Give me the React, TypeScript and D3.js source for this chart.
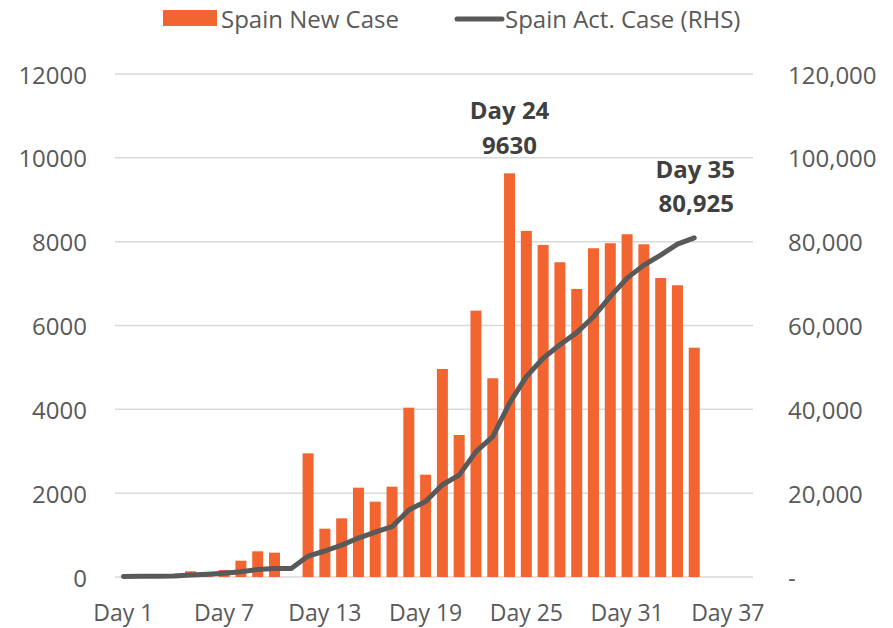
import React from "react";
import * as d3 from "d3";

const categories: string[] = Array.from({ length: 38 }, (_, i) => `Day ${i + 1}`);

const newCases: number[] = [
  0, 13, 15, 32, 136, 50, 167, 389, 613, 580,
  0, 2950, 1153, 1400, 2131, 1797, 2155, 4040, 2441, 4963,
  3388, 6354, 4741, 9630, 8256, 7922, 7509, 6872, 7843, 7962,
  8177, 7938, 7134, 6960, 5471,
];

const activeCases: number[] = [
  120, 150, 200, 260, 500, 650, 880, 1270, 1800, 2050,
  2050, 5000, 6200, 7600, 9300, 10700, 12000, 16000, 18000, 22000,
  24300, 29900, 33500, 41500, 47800, 52200, 55400, 58300, 62100, 66900,
  71300, 74400, 76800, 79400, 80925,
];

const leftTicks: number[] = [0, 2000, 4000, 6000, 8000, 10000, 12000];
const rightTicks: number[] = [0, 20000, 40000, 60000, 80000, 100000, 120000];
const xTickLabels: string[] = ["Day 1", "Day 7", "Day 13", "Day 19", "Day 25", "Day 31", "Day 37"];

const seriesNames = ["Spain New Case", "Spain Act. Case (RHS)"];

const W = 893;
const H = 628;
const FONT = "'Open Sans', 'Noto Sans', sans-serif";
const ORANGE = "#F26531";
const LINE = "#595959";
const TEXT = "#595959";
const GRID = "#d9d9d9";

export default function App() {
  const x = d3.scaleBand<string>().domain(categories).range([115, 753]).paddingInner(0.345).paddingOuter(0.1725);
  const yL = d3.scaleLinear().domain([0, 12000]).range([577, 74]);
  const yR = d3.scaleLinear().domain([0, 120000]).range([577, 74]);
  const cx = (i: number) => (x(categories[i]) as number) + x.bandwidth() / 2;

  const line = d3
    .line<number>()
    .x((_, i) => cx(i))
    .y((d) => yR(d));

  const fmtR = (v: number) => (v === 0 ? "-" : d3.format(",")(v));

  const peakIdx = newCases.indexOf(d3.max(newCases) as number);
  const lastIdx = activeCases.length - 1;

  return (
    <svg
      width={W}
      height={H}
      style={{ position: "absolute", left: 0, top: 0, background: "#fff" }}
      fontFamily={FONT}
    >
      {/* gridlines */}
      {leftTicks.map((t) => (
        <line key={t} x1={115} x2={753} y1={yL(t)} y2={yL(t)} stroke={GRID} strokeWidth={1.5} />
      ))}
      {/* left axis labels */}
      {leftTicks.map((t) => (
        <text key={t} x={87} y={yL(t)} textAnchor="end" dominantBaseline="central" fontSize={24} fill={TEXT}>
          {t}
        </text>
      ))}
      {/* right axis labels */}
      {rightTicks.map((t) => (
        <text key={t} x={788} y={yR(t)} textAnchor="start" dominantBaseline="central" fontSize={24} fill={TEXT}>
          {fmtR(t)}
        </text>
      ))}
      {/* x labels */}
      {xTickLabels.map((c) => (
        <text
          key={c}
          x={(x(c) as number) + x.bandwidth() / 2}
          y={612}
          textAnchor="middle"
          dominantBaseline="central"
          fontSize={23}
          fill={TEXT}
        >
          {c}
        </text>
      ))}
      {/* bars */}
      {newCases.map((v, i) => (
        <rect
          key={i}
          x={x(categories[i]) as number}
          y={yL(v)}
          width={x.bandwidth()}
          height={yL(0) - yL(v)}
          fill={ORANGE}
        />
      ))}
      {/* line */}
      <path
        d={line(activeCases) as string}
        fill="none"
        stroke={LINE}
        strokeWidth={5}
        strokeLinecap="round"
        strokeLinejoin="round"
      />
      {/* data labels */}
      <g fontSize={24} fontWeight="bold" fill="#404040" textAnchor="middle">
        <text x={cx(peakIdx)} y={yL(newCases[peakIdx]) - 54}>{categories[peakIdx]}</text>
        <text x={cx(peakIdx)} y={yL(newCases[peakIdx]) - 19}>{String(newCases[peakIdx])}</text>
        <text x={cx(lastIdx) + 1} y={yR(activeCases[lastIdx]) - 60}>{categories[lastIdx]}</text>
        <text x={cx(lastIdx) + 2} y={yR(activeCases[lastIdx]) - 26}>{d3.format(",")(activeCases[lastIdx])}</text>
      </g>
      {/* legend */}
      <rect x={163} y={10} width={54} height={16} fill={ORANGE} />
      <text x={221} y={18} dominantBaseline="central" fontSize={24} fill={TEXT}>
        {seriesNames[0]}
      </text>
      <line x1={457} x2={502} y1={19} y2={19} stroke={LINE} strokeWidth={5} strokeLinecap="round" />
      <text x={505} y={18} dominantBaseline="central" fontSize={24} fill={TEXT}>
        {seriesNames[1]}
      </text>
    </svg>
  );
}
